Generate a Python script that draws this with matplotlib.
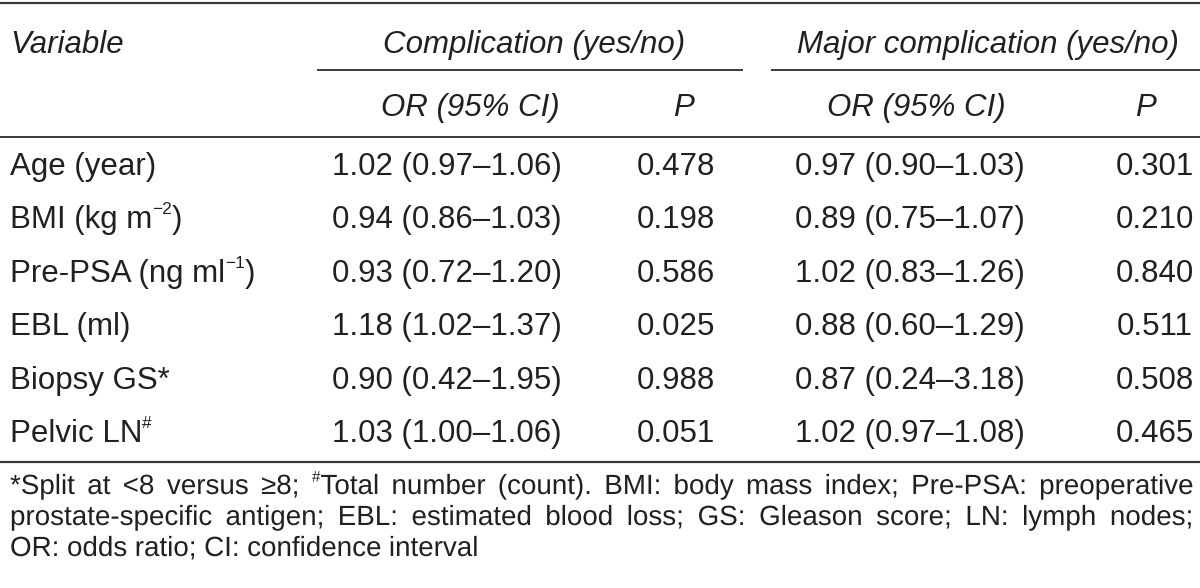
import matplotlib
matplotlib.use('Agg')
import matplotlib.pyplot as plt
import matplotlib.transforms as mtransforms
from matplotlib.textpath import TextPath
from matplotlib.patches import PathPatch
from matplotlib.font_manager import FontProperties

plt.rcParams['font.family'] = ['Liberation Sans', 'DejaVu Sans']

# table content ('^' marks a superscript part)
variables = ['Age (year)', 'BMI (kg m^−2^)', 'Pre-PSA (ng ml^−1^)',
             'EBL (ml)', 'Biopsy GS*', 'Pelvic LN^#^']
or_comp = ['1.02 (0.97–1.06)', '0.94 (0.86–1.03)', '0.93 (0.72–1.20)',
           '1.18 (1.02–1.37)', '0.90 (0.42–1.95)', '1.03 (1.00–1.06)']
p_comp = ['0.478', '0.198', '0.586', '0.025', '0.988', '0.051']
or_major = ['0.97 (0.90–1.03)', '0.89 (0.75–1.07)', '1.02 (0.83–1.26)',
            '0.88 (0.60–1.29)', '0.87 (0.24–3.18)', '1.02 (0.97–1.08)']
p_major = ['0.301', '0.210', '0.840', '0.511', '0.508', '0.465']
footnote_lines = [
    '*Split at <8 versus ≥8; ^#^Total number (count). BMI: body mass index; Pre-PSA: preoperative',
    'prostate-specific antigen; EBL: estimated blood loss; GS: Gleason score; LN: lymph nodes;',
    'OR: odds ratio; CI: confidence interval',
]

W, H = 1200, 588
fig = plt.figure(figsize=(W / 100, H / 100), dpi=100)
ax = fig.add_axes([0, 0, 1, 1])
ax.set_xlim(0, W)
ax.set_ylim(H, 0)
ax.axis('off')
fig.canvas.draw()
renderer = fig.canvas.get_renderer()

txt = '#231f20'
rule = '#3a3a3a'
fs = 22.5
hfs = 22.5
ffs = 20
fprop = FontProperties(family='Liberation Sans')


def width_of(s, size):
    t = ax.text(0, 0, s, fontsize=size)
    w = t.get_window_extent(renderer).width
    t.remove()
    return w


def path_text(x, y, s, size):
    # glyph outlines, so every word shares the exact same baseline
    tp = TextPath((0, 0), s, size=size * 100 / 72, prop=fprop)
    tr = mtransforms.Affine2D().scale(1, -1).translate(x, y) + ax.transData
    ax.add_patch(PathPatch(tp, transform=tr, facecolor=txt, edgecolor='none', lw=0))


def rich(x, y, s, size, draw=True, as_path=False):
    # draw text with ^sup^ parts, return total width
    parts = s.split('^')
    cx = x
    for j, p in enumerate(parts):
        if not p:
            continue
        sup = j % 2 == 1
        sz = size * 0.55 if sup else size
        yy = y - size * 0.62 if sup else y
        if draw:
            if as_path:
                path_text(cx, yy, p, sz)
            else:
                ax.text(cx, yy, p, fontsize=sz, color=txt, va='baseline')
        cx += width_of(p, sz)
    return cx - x


# rules
ax.plot([0, W], [3, 3], color=rule, lw=1.6)
ax.plot([318, 742], [70, 70], color=rule, lw=1.4)
ax.plot([772, W], [70, 70], color=rule, lw=1.4)
ax.plot([0, W], [137, 137], color=rule, lw=1.4)
ax.plot([0, W], [462, 462], color=rule, lw=1.6)

# headers
ax.text(10, 53, 'Variable', fontsize=hfs, style='italic', color=txt, va='baseline')
ax.text(534, 53, 'Complication (yes/no)', fontsize=hfs, style='italic', color=txt,
        ha='center', va='baseline')
ax.text(988, 53, 'Major complication (yes/no)', fontsize=hfs, style='italic', color=txt,
        ha='center', va='baseline')
ax.text(470, 116, 'OR (95% CI)', fontsize=hfs, style='italic', color=txt, ha='center', va='baseline')
ax.text(683, 116, 'P', fontsize=hfs, style='italic', color=txt, ha='center', va='baseline')
ax.text(916, 116, 'OR (95% CI)', fontsize=hfs, style='italic', color=txt, ha='center', va='baseline')
ax.text(1145, 116, 'P', fontsize=hfs, style='italic', color=txt, ha='center', va='baseline')

# body rows
row0, step = 175, 53.4
for i in range(len(variables)):
    y = row0 + i * step
    rich(10, y, variables[i], fs)
    ax.text(447, y, or_comp[i], fontsize=fs, color=txt, ha='center', va='baseline')
    ax.text(676, y, p_comp[i], fontsize=fs, color=txt, ha='center', va='baseline')
    ax.text(910, y, or_major[i], fontsize=fs, color=txt, ha='center', va='baseline')
    ax.text(1155, y, p_major[i], fontsize=fs, color=txt, ha='center', va='baseline')

# footnote, justified between the margins (last line left aligned)
left, right = 10, 1193
fy = [494, 525, 556]
for k, line in enumerate(footnote_lines):
    words = line.split(' ')
    if k == len(footnote_lines) - 1:
        gap = width_of('a b', ffs) - width_of('ab', ffs)
    else:
        widths = [rich(0, 0, w, ffs, draw=False) for w in words]
        gap = (right - left - sum(widths)) / (len(words) - 1)
    x = left
    for w in words:
        x += rich(x, fy[k], w, ffs, as_path=True) + gap

fig.savefig('out.png', dpi=100)
